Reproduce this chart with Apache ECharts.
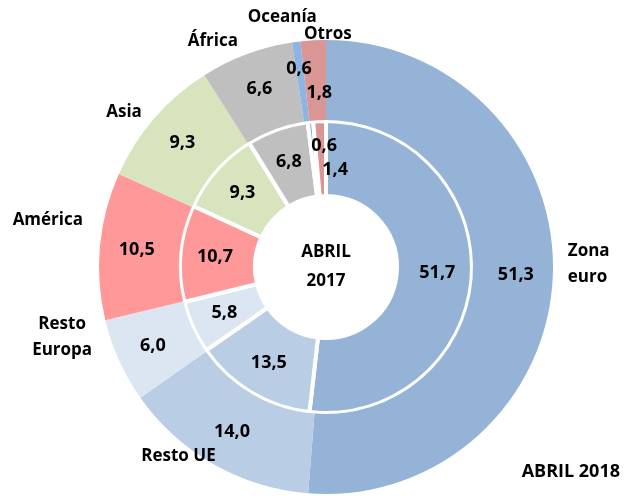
<!DOCTYPE html>
<html>
<head>
<meta charset="utf-8">
<script src="https://cdn.jsdelivr.net/npm/echarts@6/dist/echarts.min.js"></script>
<style>
  html, body { margin: 0; padding: 0; background: #fff; }
  #chart { width: 625px; height: 496px; }
</style>
</head>
<body>
<div id="chart"></div>
<script>
// Categories (clockwise from 12 o'clock)
const categories = ['Zona euro', 'Resto UE', 'Resto Europa', 'América', 'Asia', 'África', 'Oceanía', 'Otros'];
const nameLabels = ['Zona\neuro', 'Resto UE', 'Resto\nEuropa', 'América', 'Asia', 'África', 'Oceanía', 'Otros'];
// Inner ring: abril 2017, outer ring: abril 2018 (%)
const values2017 = [51.7, 13.5, 5.8, 10.7, 9.3, 6.8, 0.6, 1.4];
const values2018 = [51.3, 14.0, 6.0, 10.5, 9.3, 6.6, 0.6, 1.8];
const colors = ['#95B3D7', '#B9CDE5', '#DCE6F2', '#FF9999', '#D7E4BD', '#BFBFBF', '#8EB4E3', '#D99694'];

const FONT = '"Open Sans"';
const fmt = v => v.toFixed(1).replace('.', ',');

const toData = vals => vals.map((v, i) => ({
  name: categories[i],
  value: v,
  itemStyle: { color: colors[i] }
}));

// small manual nudges so the tiny slices' labels don't collide
const innerNudge = { 6: [10, -10], 7: [14, 14] };
const outerNudge = { 6: [-2, -10], 7: [4, 16] };
const nameNudge = { 0: [0, -12], 1: [12, -17], 3: [-2, -25], 5: [0, -4], 6: [27, -15], 7: [44, 4] };

const center = [326, 267];
const valueLabel = {
  show: true,
  position: 'inside',
  formatter: p => fmt(p.value),
  fontFamily: FONT,
  fontWeight: 'bold',
  fontSize: 18,
  color: '#000'
};

const nudger = table => p => {
  const n = table[p.dataIndex];
  return Object.assign({ hideOverlap: false, moveOverlap: null }, n ? { dx: n[0], dy: n[1] } : {});
};

const chart = echarts.init(document.getElementById('chart'));

chart.setOption({
  animation: false,
  series: [
    {
      type: 'pie',
      center: center,
      radius: [71, 146],
      silent: true,
      itemStyle: { borderColor: '#fff', borderWidth: 4 },
      label: valueLabel,
      labelLine: { show: false },
      labelLayout: nudger(innerNudge),
      data: toData(values2017)
    },
    {
      type: 'pie',
      center: center,
      radius: [147, 227],
      silent: true,
      itemStyle: { borderColor: '#fff', borderWidth: 4 },
      label: valueLabel,
      labelLine: { show: false },
      labelLayout: nudger(outerNudge),
      data: toData(values2018)
    },
    {
      // category names around the outer ring
      type: 'pie',
      center: center,
      radius: [147, 227],
      silent: true,
      avoidLabelOverlap: false,
      itemStyle: { color: 'rgba(0,0,0,0)' },
      label: {
        show: true,
        position: 'outside',
        formatter: p => nameLabels[p.dataIndex],
        fontFamily: FONT,
        fontWeight: 'bold',
        fontSize: 17,
        lineHeight: 26,
        color: '#000'
      },
      labelLine: { show: false, length: 10, length2: 0 },
      labelLayout: p => {
        if (p.dataIndex === 2) {
          return { hideOverlap: false, moveOverlap: null, align: 'center', dx: -43, dy: -28 };
        }
        return nudger(nameNudge)(p);
      },
      data: toData(values2018)
    }
  ],
  graphic: [
    {
      type: 'text',
      x: 326, y: 267,
      style: {
        text: 'ABRIL\n2017',
        align: 'center', verticalAlign: 'middle',
        font: 'bold 17px ' + FONT,
        lineHeight: 29,
        fill: '#000'
      }
    },
    {
      type: 'text',
      x: 620, y: 472,
      style: {
        text: 'ABRIL 2018',
        align: 'right', verticalAlign: 'middle',
        font: 'bold 18px ' + FONT,
        fill: '#000'
      }
    }
  ]
});
</script>
</body>
</html>
